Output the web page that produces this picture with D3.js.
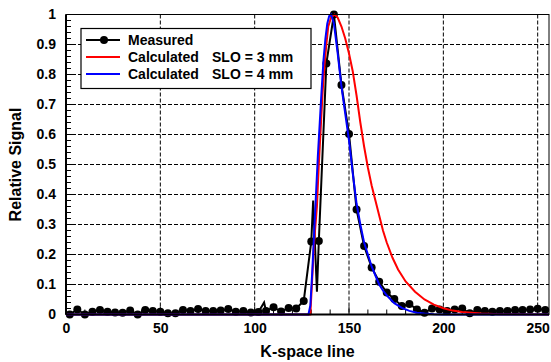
<!DOCTYPE html>
<html><head><meta charset="utf-8">
<script src="https://cdn.jsdelivr.net/npm/d3@7"></script>
<style>
body{margin:0;background:#fff;}
text{font-family:"Liberation Sans",Arial,sans-serif;font-weight:bold;fill:#000;}
</style></head>
<body><svg id="c" width="551" height="362"></svg>
<script>
// Measured data (line vertices); markers at every 4th line (k % 4 == 2)
const measuredK = [2,6,10,14,18,22,26,30,34,38,42,46,50,54,58,62,66,70,74,78,82,86,90,94,98,102,105,106,110,114,118,122,126,130,131,133,134,138,142,146,150,154,158,162,166,170,174,178,182,186,190,194,198,202,206,210,214,218,222,226,230,234,238,242,246,250,254];
const measuredV = [0.0,0.017,0.0,0.009,0.015,0.009,0.007,0.006,0.013,0.0,0.015,0.012,0.009,0.004,0.004,0.015,0.012,0.018,0.012,0.012,0.013,0.018,0.009,0.012,0.007,0.008,0.04,0.012,0.024,0.01,0.022,0.02,0.045,0.243,0.38,0.076,0.245,0.837,1.0,0.765,0.602,0.35,0.228,0.157,0.109,0.073,0.052,0.028,0.035,0.017,0.006,0.02,0.017,0.012,0.017,0.02,0.004,0.015,0.012,0.009,0.012,0.012,0.015,0.015,0.017,0.019,0.015];
// Calculated SLO = 3 mm
const slo3K = [0,50,100,129.5,130.5,131.5,133,134,135,136,137,138,139,140.5,142.3,144,146,148,150,152,154,156,158,160,162,164,166,168,170,173,176,180,185,190,195,200,205,210,220,230,256];
const slo3V = [0,0,0,0,0.12,0.24,0.36,0.5,0.62,0.74,0.83,0.9,0.96,0.99,1.0,0.99,0.96,0.92,0.87,0.81,0.73,0.64,0.56,0.49,0.43,0.38,0.33,0.28,0.24,0.19,0.15,0.11,0.076,0.05,0.033,0.021,0.013,0.008,0.003,0.001,0];
// Calculated SLO = 4 mm
const slo4K = [0,50,100,128.5,129.5,130.5,131.5,132.5,133.5,134.5,135.5,136.5,137.5,138.5,139.5,140.5,142,144,146,148,150,152,154,156,158,160,162,164,166,168,170,174,178,182,186,190,195,200,256];
const slo4V = [0,0,0,0,0.03,0.14,0.27,0.4,0.53,0.64,0.75,0.85,0.92,0.97,0.995,1.0,0.97,0.87,0.76,0.67,0.58,0.47,0.37,0.3,0.24,0.2,0.16,0.13,0.1,0.08,0.064,0.038,0.022,0.012,0.006,0.003,0.001,0,0];
const xTicks = [0,50,100,150,200,250];
const yTicks = [0,0.1,0.2,0.3,0.4,0.5,0.6,0.7,0.8,0.9,1];
const yTickLabels = ["0","0.1","0.2","0.3","0.4","0.5","0.6","0.7","0.8","0.9","1"];
const legendLabels = ["Measured","Calculated","Calculated"];
const legendExtra = ["","SLO = 3 mm","SLO = 4 mm"];
const colors = ["#000000","#ff0000","#0000ff"];

const svg = d3.select("#c");
const L=66, R=549, T=14.5, B=314.5;
const x = d3.scaleLinear().domain([0,256]).range([L,R]);
const y = d3.scaleLinear().domain([0,1]).range([B,T]);

// grid
const g = svg.append("g");
g.selectAll(".gx").data(xTicks.filter(d=>d>0)).enter().append("line")
 .attr("x1",d=>x(d)).attr("x2",d=>x(d)).attr("y1",T).attr("y2",B)
 .attr("stroke","#000").attr("stroke-width",1).attr("stroke-dasharray","4,2");
g.selectAll(".gy").data(yTicks.filter(d=>d>0&&d<1)).enter().append("line")
 .attr("x1",L).attr("x2",R).attr("y1",d=>y(d)).attr("y2",d=>y(d))
 .attr("stroke","#000").attr("stroke-width",1).attr("stroke-dasharray","4,2");

// minor ticks inside
const yMinor = d3.range(0,51).map(i=>i/50);
svg.append("g").selectAll("line").data(yMinor).enter().append("line")
 .attr("x1",L).attr("x2",d=>L+((Math.round(d*50)%5===0)?8:5)).attr("y1",d=>y(d)).attr("y2",d=>y(d))
 .attr("stroke","#000").attr("stroke-width",1);
const xMinor = d3.range(0,26).map(i=>i*10);
svg.append("g").selectAll("line").data(xMinor).enter().append("line")
 .attr("x1",d=>x(d)).attr("x2",d=>x(d)).attr("y1",B).attr("y2",d=>B-((d%50===0)?8:5))
 .attr("stroke","#000").attr("stroke-width",1);

// axes labels via d3 axes (tick lines hidden)
const xAxis = d3.axisBottom(x).tickValues(xTicks).tickSize(0).tickPadding(9);
svg.append("g").attr("transform",`translate(0,${B})`).call(xAxis)
 .call(s=>s.select(".domain").remove())
 .selectAll("text").attr("font-size","14px").attr("font-family","Liberation Sans, Arial").attr("font-weight","bold");
const yAxis = d3.axisLeft(y).tickValues(yTicks).tickFormat((d,i)=>yTickLabels[i]).tickSize(0).tickPadding(10);
svg.append("g").attr("transform",`translate(${L},0)`).call(yAxis)
 .call(s=>s.select(".domain").remove())
 .selectAll("text").attr("font-size","14px").attr("font-family","Liberation Sans, Arial").attr("font-weight","bold");

// lines
const line = d3.line().x(d=>x(d[0])).y(d=>y(d[1]));
const mData = measuredK.map((k,i)=>[k,measuredV[i]]);
const s3 = slo3K.map((k,i)=>[k,slo3V[i]]);
const s4 = slo4K.map((k,i)=>[k,slo4V[i]]);
const pg = svg.append("g");
pg.append("path").datum(mData).attr("d",line).attr("fill","none").attr("stroke","#000").attr("stroke-width",2);
pg.selectAll("circle").data(mData.filter(d=>d[0]%4===2)).enter().append("circle")
 .attr("cx",d=>x(d[0])).attr("cy",d=>y(d[1])).attr("r",4).attr("fill","#000");
pg.append("path").datum(s3).attr("d",line).attr("fill","none").attr("stroke","#ff0000").attr("stroke-width",2);
pg.append("path").datum(s4).attr("d",line).attr("fill","none").attr("stroke","#0000ff").attr("stroke-width",2);

// frame
svg.append("rect").attr("x",L).attr("y",T).attr("width",R-L).attr("height",B-T)
 .attr("fill","none").attr("stroke","#000").attr("stroke-width",1);
svg.append("line").attr("x1",L).attr("x2",L).attr("y1",T).attr("y2",B).attr("stroke","#000").attr("stroke-width",2);
svg.append("line").attr("x1",L).attr("x2",R).attr("y1",B).attr("y2",B).attr("stroke","#000").attr("stroke-width",2);

// axis titles
svg.append("text").attr("x",(L+R)/2).attr("y",357).attr("text-anchor","middle").attr("font-size","16px").text("K-space line");
svg.append("text").attr("transform",`translate(21,${(T+B)/2}) rotate(-90)`).attr("text-anchor","middle").attr("font-size","16px").text("Relative Signal");

// legend
const lg = svg.append("g");
lg.append("rect").attr("x",81).attr("y",28.5).attr("width",230).attr("height",60)
 .attr("fill","#fff").attr("stroke","#000").attr("stroke-width",1.2);
legendLabels.forEach((lab,i)=>{
  const yy = 40 + i*17;
  lg.append("line").attr("x1",86).attr("x2",120).attr("y1",yy).attr("y2",yy).attr("stroke",colors[i]).attr("stroke-width",2);
  if(i===0) lg.append("circle").attr("cx",104).attr("cy",yy).attr("r",4).attr("fill","#000");
  lg.append("text").attr("x",128).attr("y",yy+5).attr("font-size","14px").text(lab);
  if(legendExtra[i]) lg.append("text").attr("x",212).attr("y",yy+5).attr("font-size","14px").text(legendExtra[i]);
});
</script></body></html>
